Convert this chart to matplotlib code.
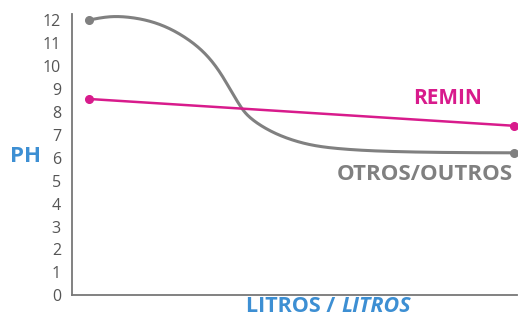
import matplotlib
matplotlib.use("Agg")
import matplotlib.pyplot as plt
import numpy as np

# Data
otros_x = [0.0, 0.49, 0.96, 1.43, 1.90, 2.25, 2.61, 2.89, 3.12, 3.31, 3.48, 3.64, 3.83, 4.06, 4.37, 4.72, 5.19, 5.90, 7.31, 10.0]
otros_y = [12.02, 12.16, 12.13, 11.96, 11.63, 11.26, 10.75, 10.20, 9.60, 9.01, 8.48, 8.04, 7.69, 7.39, 7.08, 6.82, 6.58, 6.40, 6.27, 6.22]
remin_x = [0, 10]
remin_y = [8.57, 7.40]
yticks = list(range(0, 13))

GRAY = "#808080"
PINK = "#d81b8c"
BLUE = "#3d8fd3"


def spline_render(xs, ys, n=600):
    """Natural cubic spline through the read points (drawing only)."""
    x = np.asarray(xs, float)
    y = np.asarray(ys, float)
    k = len(x)
    h = np.diff(x)
    A = np.zeros((k, k))
    b = np.zeros(k)
    A[0, 0] = A[-1, -1] = 1.0
    for i in range(1, k - 1):
        A[i, i - 1] = h[i - 1]
        A[i, i] = 2 * (h[i - 1] + h[i])
        A[i, i + 1] = h[i]
        b[i] = 3 * ((y[i + 1] - y[i]) / h[i] - (y[i] - y[i - 1]) / h[i - 1])
    c = np.linalg.solve(A, b)
    bb = (y[1:] - y[:-1]) / h - h * (2 * c[:-1] + c[1:]) / 3
    d = (c[1:] - c[:-1]) / (3 * h)
    xx = np.linspace(x[0], x[-1], n)
    idx = np.clip(np.searchsorted(x, xx) - 1, 0, k - 2)
    dx = xx - x[idx]
    yy = y[idx] + bb[idx] * dx + c[idx] * dx ** 2 + d[idx] * dx ** 3
    return xx, yy


plt.rcParams['font.family'] = ['Open Sans', 'DejaVu Sans']

fig = plt.figure(figsize=(5.18, 3.17), dpi=100)
ax = fig.add_axes([0.139, 0.0685, 0.8585, 0.8873])

cx, cy = spline_render(otros_x, otros_y)
ax.plot(cx, cy, color=GRAY, lw=2.2, solid_capstyle='round', clip_on=False, zorder=2)
ax.plot([otros_x[0], otros_x[-1]], [otros_y[0], otros_y[-1]], 'o', color=GRAY, ms=5.5,
        clip_on=False, zorder=3)
ax.plot(remin_x, remin_y, color=PINK, lw=1.8, marker='o', ms=5.5, clip_on=False, zorder=3)

ax.set_xlim(-0.407, 10.06)
ax.set_ylim(0, 12.28)
ax.set_yticks(yticks)
ax.set_yticklabels([str(v) for v in yticks], fontsize=11.5, color="#555555")
ax.set_xticks([])
ax.tick_params(axis='y', length=0, pad=8)

for s in ['top', 'right']:
    ax.spines[s].set_visible(False)
for s in ['left', 'bottom']:
    ax.spines[s].set_color("#777777")
    ax.spines[s].set_linewidth(1.3)

ax.text(8.44, 8.12, "REMIN", color=PINK, fontsize=15,
        fontweight='bold', ha='center', va='bottom')
ax.text(9.98, 5.75, "OTROS/OUTROS", color=GRAY, fontsize=16, fontweight='bold',
        ha='right', va='top')

fig.text(26/518, 1 - 157/317, "PH", color=BLUE, fontsize=16, fontweight='bold',
         ha='center', va='center')
fig.text(341/518, 1 - 307/317, "LITROS / ", color=BLUE, fontsize=15.5, fontweight='bold',
         ha='right', va='center')
fig.text(341/518, 1 - 307/317, "LITROS", color=BLUE, fontsize=15.5, fontweight='bold',
         style='italic', ha='left', va='center')

fig.savefig("out.png", dpi=100)
